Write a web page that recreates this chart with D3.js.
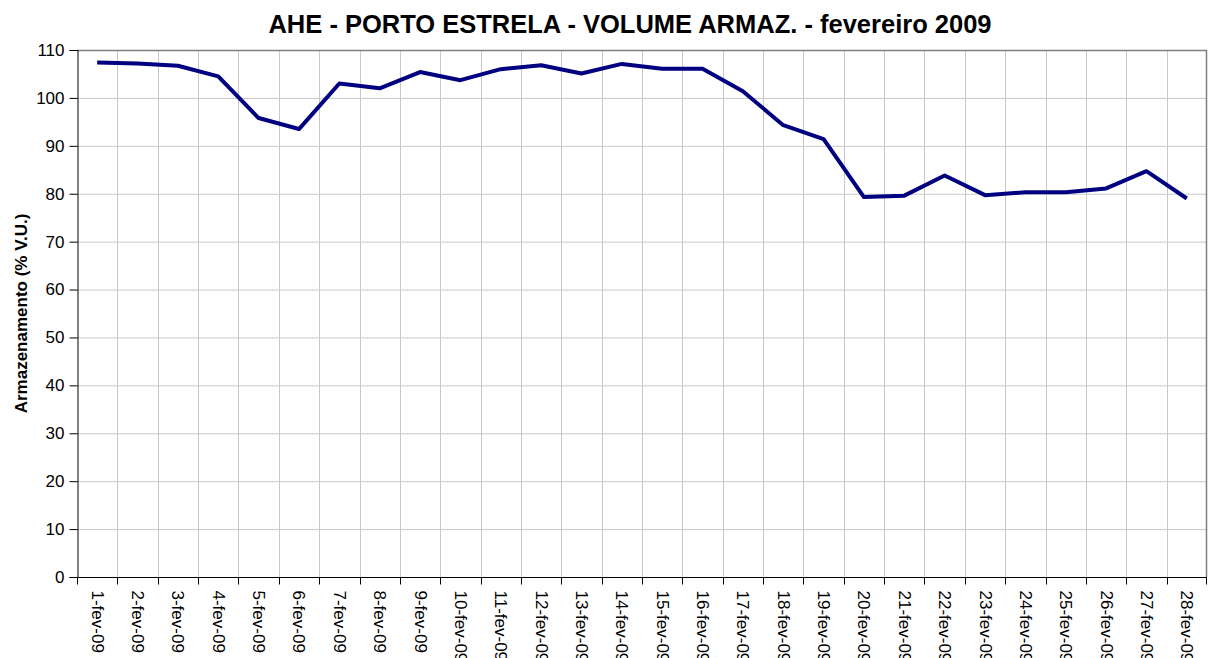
<!DOCTYPE html>
<html>
<head>
<meta charset="utf-8">
<script src="https://cdn.jsdelivr.net/npm/d3@7"></script>
<style>
  body { margin: 0; background: #fff; }
  svg { font-family: Arial, "Liberation Sans", sans-serif; }
</style>
</head>
<body>
<div id="chart"></div>
<script>
const width = 1212, height = 658;
const margin = {top: 50, right: 5, bottom: 81, left: 77};

// Data
const days = ["1-fev-09", "2-fev-09", "3-fev-09", "4-fev-09", "5-fev-09", "6-fev-09", "7-fev-09",
    "8-fev-09", "9-fev-09", "10-fev-09", "11-fev-09", "12-fev-09", "13-fev-09", "14-fev-09",
    "15-fev-09", "16-fev-09", "17-fev-09", "18-fev-09", "19-fev-09", "20-fev-09", "21-fev-09",
    "22-fev-09", "23-fev-09", "24-fev-09", "25-fev-09", "26-fev-09", "27-fev-09", "28-fev-09"];
const volume = [107.4, 107.2, 106.7, 104.5, 95.8, 93.5, 103.0, 102.0, 105.4, 103.7, 106.0, 106.8,
    105.1, 107.1, 106.1, 106.1, 101.4, 94.3, 91.4, 79.3, 79.6, 83.8, 79.7, 80.3, 80.3, 81.1, 84.7, 79.0];
const yTicks = [0, 10, 20, 30, 40, 50, 60, 70, 80, 90, 100, 110];

const svg = d3.select("#chart").append("svg")
    .attr("width", width)
    .attr("height", height);

const x = d3.scaleBand()
    .domain(days)
    .range([margin.left, width - margin.right]);

const y = d3.scaleLinear()
    .domain([0, 110])
    .range([height - margin.bottom, margin.top]);

// horizontal gridlines
svg.append("g")
    .selectAll("line")
    .data(yTicks)
    .join("line")
    .attr("x1", margin.left)
    .attr("x2", width - margin.right)
    .attr("y1", d => y(d) + 0.5)
    .attr("y2", d => y(d) + 0.5)
    .attr("stroke", "#c8c8c8");

// vertical gridlines at category boundaries
svg.append("g")
    .selectAll("line")
    .data(days.slice(1))
    .join("line")
    .attr("x1", d => Math.round(x(d)) + 0.5)
    .attr("x2", d => Math.round(x(d)) + 0.5)
    .attr("y1", margin.top)
    .attr("y2", height - margin.bottom)
    .attr("stroke", "#c8c8c8");

// plot frame (top and right)
svg.append("path")
    .attr("d", `M${margin.left},${margin.top + 0.5}H${width - margin.right - 0.5}V${height - margin.bottom}`)
    .attr("fill", "none")
    .attr("stroke", "#808080")
    .attr("stroke-width", 1.5);

// y axis
const yAxis = svg.append("g")
    .attr("transform", `translate(${margin.left + 0.5},0)`)
    .call(d3.axisLeft(y).tickValues(yTicks).tickSize(8).tickPadding(5));
yAxis.select(".domain").attr("stroke", "#000");
yAxis.selectAll("text").attr("font-size", 17).attr("fill", "#000")
    .attr("font-family", "Arial, 'Liberation Sans', sans-serif");

// x axis with ticks between categories
const xAxisG = svg.append("g")
    .attr("transform", `translate(0,${height - margin.bottom + 0.5})`);
xAxisG.append("line")
    .attr("x1", margin.left)
    .attr("x2", width - margin.right)
    .attr("stroke", "#000");
xAxisG.selectAll(".tick")
    .data(days)
    .join("line")
    .attr("x1", d => Math.round(x(d)) + 0.5)
    .attr("x2", d => Math.round(x(d)) + 0.5)
    .attr("y1", 0)
    .attr("y2", 7)
    .attr("stroke", "#000");
xAxisG.append("line")
    .attr("x1", width - margin.right - 0.5)
    .attr("x2", width - margin.right - 0.5)
    .attr("y1", 0).attr("y2", 7)
    .attr("stroke", "#000");
xAxisG.selectAll("text")
    .data(days)
    .join("text")
    .attr("transform", d => `translate(${x(d) + x.bandwidth() / 2 - 1},13) rotate(90)`)
    .attr("font-size", 17)
    .attr("fill", "#000")
    .attr("text-anchor", "start")
    .attr("dominant-baseline", "middle")
    .text(d => d);

// line
const line = d3.line()
    .x((d, i) => x(days[i]) + x.bandwidth() / 2)
    .y(d => y(d));

svg.append("path")
    .datum(volume)
    .attr("fill", "none")
    .attr("stroke", "#000080")
    .attr("stroke-width", 4)
    .attr("stroke-linejoin", "round")
    .attr("d", line);

// title
svg.append("text")
    .attr("x", 630)
    .attr("y", 33)
    .attr("text-anchor", "middle")
    .attr("font-size", 25.5)
    .attr("font-weight", "bold")
    .text("AHE - PORTO ESTRELA - VOLUME ARMAZ. - fevereiro 2009");

// y axis title
svg.append("text")
    .attr("transform", `translate(27,${(margin.top + height - margin.bottom) / 2}) rotate(-90)`)
    .attr("text-anchor", "middle")
    .attr("font-size", 17)
    .attr("font-weight", "bold")
    .text("Armazenamento (% V.U.)");
</script>
</body>
</html>
